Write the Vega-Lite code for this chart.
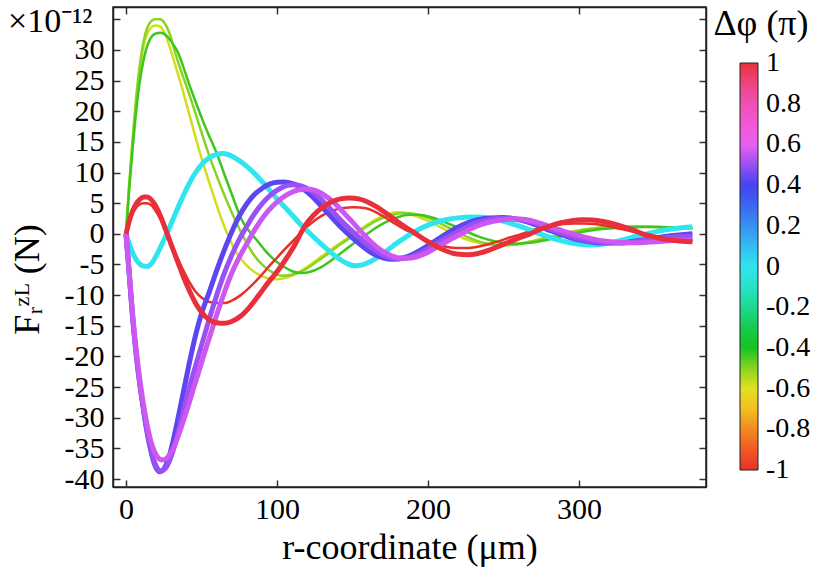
{
  "$schema": "https://vega.github.io/schema/vega-lite/v6.json",
  "width": 593,
  "height": 480,
  "autosize": {"type": "none"},
  "padding": {"left": 113, "top": 7, "right": 124, "bottom": 81},
  "background": "white",
  "title": {"text": "×10⁻¹²", "anchor": "start", "frame": "group", "orient": "top", "baseline": "top", "offset": 0, "dx": -105, "dy": 33, "font": "Liberation Serif", "fontSize": 34, "fontWeight": "normal", "color": "#000"},
  "config": {
    "view": {"stroke": "#222", "strokeWidth": 1.5},
    "axis": {
      "labelFont": "Liberation Serif", "labelFontSize": 30, "labelColor": "#000",
      "titleFont": "Liberation Serif", "titleFontSize": 36, "titleFontWeight": "normal", "titleColor": "#000",
      "tickColor": "#333", "tickWidth": 1.5, "tickSize": -7,
      "domainColor": "#222", "domainWidth": 1.5, "grid": false, "labelPadding": 16
    }
  },
  "data": {"values": [
    {"curve":"y","dphi":-0.58,"r":0,"F":0},{"curve":"y","dphi":-0.58,"r":2,"F":7.5},{"curve":"y","dphi":-0.58,"r":4,"F":14},{"curve":"y","dphi":-0.58,"r":6,"F":19.8},{"curve":"y","dphi":-0.58,"r":8,"F":24.6},{"curve":"y","dphi":-0.58,"r":10,"F":28.3},{"curve":"y","dphi":-0.58,"r":13,"F":31.9},{"curve":"y","dphi":-0.58,"r":16,"F":33.5},{"curve":"y","dphi":-0.58,"r":19,"F":34},{"curve":"y","dphi":-0.58,"r":22,"F":33.9},{"curve":"y","dphi":-0.58,"r":25,"F":33},{"curve":"y","dphi":-0.58,"r":28,"F":31.2},{"curve":"y","dphi":-0.58,"r":30.2,"F":29.5},{"curve":"y","dphi":-0.58,"r":33,"F":27.2},{"curve":"y","dphi":-0.58,"r":36.9,"F":24},{"curve":"y","dphi":-0.58,"r":40,"F":21.2},{"curve":"y","dphi":-0.58,"r":44,"F":17.6},{"curve":"y","dphi":-0.58,"r":49,"F":13.2},{"curve":"y","dphi":-0.58,"r":54,"F":9.2},{"curve":"y","dphi":-0.58,"r":58,"F":6.2},{"curve":"y","dphi":-0.58,"r":63.4,"F":2.3},{"curve":"y","dphi":-0.58,"r":68.9,"F":-1},{"curve":"y","dphi":-0.58,"r":74,"F":-3.4},{"curve":"y","dphi":-0.58,"r":80,"F":-5.2},{"curve":"y","dphi":-0.58,"r":86,"F":-6.4},{"curve":"y","dphi":-0.58,"r":93,"F":-7.2},{"curve":"y","dphi":-0.58,"r":100,"F":-7.4},{"curve":"y","dphi":-0.58,"r":107,"F":-7.1},{"curve":"y","dphi":-0.58,"r":115,"F":-6.2},{"curve":"y","dphi":-0.58,"r":123,"F":-4.9},{"curve":"y","dphi":-0.58,"r":131,"F":-3.4},{"curve":"y","dphi":-0.58,"r":139,"F":-2},{"curve":"y","dphi":-0.58,"r":146,"F":-0.8},{"curve":"y","dphi":-0.58,"r":152,"F":0.2},{"curve":"y","dphi":-0.58,"r":158,"F":1.2},{"curve":"y","dphi":-0.58,"r":165,"F":2.3},{"curve":"y","dphi":-0.58,"r":172,"F":3.1},{"curve":"y","dphi":-0.58,"r":179,"F":3.5},{"curve":"y","dphi":-0.58,"r":186,"F":3.3},{"curve":"y","dphi":-0.58,"r":193,"F":2.8},{"curve":"y","dphi":-0.58,"r":200,"F":2.1},{"curve":"y","dphi":-0.58,"r":208,"F":1.1},{"curve":"y","dphi":-0.58,"r":216,"F":0.1},{"curve":"y","dphi":-0.58,"r":224,"F":-0.8},{"curve":"y","dphi":-0.58,"r":232,"F":-1.4},{"curve":"y","dphi":-0.58,"r":240,"F":-1.8},{"curve":"y","dphi":-0.58,"r":248,"F":-1.9},{"curve":"y","dphi":-0.58,"r":256,"F":-1.8},{"curve":"y","dphi":-0.58,"r":264,"F":-1.4},{"curve":"y","dphi":-0.58,"r":272,"F":-1},{"curve":"y","dphi":-0.58,"r":280,"F":-0.5},{"curve":"y","dphi":-0.58,"r":290,"F":0.1},{"curve":"y","dphi":-0.58,"r":300,"F":0.6},{"curve":"y","dphi":-0.58,"r":310,"F":0.9},{"curve":"y","dphi":-0.58,"r":320,"F":1.1},{"curve":"y","dphi":-0.58,"r":330,"F":1.2},{"curve":"y","dphi":-0.58,"r":340,"F":1.2},{"curve":"y","dphi":-0.58,"r":350,"F":1.1},{"curve":"y","dphi":-0.58,"r":360,"F":1},{"curve":"y","dphi":-0.58,"r":368,"F":0.9},{"curve":"y","dphi":-0.58,"r":375,"F":0.8},

    {"curve":"l","dphi":-0.5,"r":0,"F":0},{"curve":"l","dphi":-0.5,"r":2,"F":7.6},{"curve":"l","dphi":-0.5,"r":4,"F":14.2},{"curve":"l","dphi":-0.5,"r":6,"F":20.2},{"curve":"l","dphi":-0.5,"r":8,"F":25.2},{"curve":"l","dphi":-0.5,"r":10,"F":29},{"curve":"l","dphi":-0.5,"r":13,"F":32.8},{"curve":"l","dphi":-0.5,"r":16,"F":34.5},{"curve":"l","dphi":-0.5,"r":19,"F":35},{"curve":"l","dphi":-0.5,"r":22.5,"F":35},{"curve":"l","dphi":-0.5,"r":26,"F":34.2},{"curve":"l","dphi":-0.5,"r":29,"F":32.6},{"curve":"l","dphi":-0.5,"r":32.5,"F":29.6},{"curve":"l","dphi":-0.5,"r":36,"F":26.9},{"curve":"l","dphi":-0.5,"r":40.2,"F":24},{"curve":"l","dphi":-0.5,"r":44,"F":21.2},{"curve":"l","dphi":-0.5,"r":48,"F":18.1},{"curve":"l","dphi":-0.5,"r":54.5,"F":13.2},{"curve":"l","dphi":-0.5,"r":60,"F":9.5},{"curve":"l","dphi":-0.5,"r":66,"F":5.8},{"curve":"l","dphi":-0.5,"r":72.2,"F":2.3},{"curve":"l","dphi":-0.5,"r":78.8,"F":-1},{"curve":"l","dphi":-0.5,"r":84,"F":-3.2},{"curve":"l","dphi":-0.5,"r":90,"F":-5},{"curve":"l","dphi":-0.5,"r":97,"F":-6.3},{"curve":"l","dphi":-0.5,"r":104,"F":-6.85},{"curve":"l","dphi":-0.5,"r":111,"F":-6.6},{"curve":"l","dphi":-0.5,"r":118,"F":-5.9},{"curve":"l","dphi":-0.5,"r":126,"F":-4.6},{"curve":"l","dphi":-0.5,"r":134,"F":-3.2},{"curve":"l","dphi":-0.5,"r":142,"F":-1.7},{"curve":"l","dphi":-0.5,"r":150,"F":-0.4},{"curve":"l","dphi":-0.5,"r":157,"F":0.8},{"curve":"l","dphi":-0.5,"r":164,"F":1.9},{"curve":"l","dphi":-0.5,"r":171,"F":2.7},{"curve":"l","dphi":-0.5,"r":178,"F":3.2},{"curve":"l","dphi":-0.5,"r":185,"F":3.4},{"curve":"l","dphi":-0.5,"r":192,"F":3.2},{"curve":"l","dphi":-0.5,"r":200,"F":2.6},{"curve":"l","dphi":-0.5,"r":208,"F":1.7},{"curve":"l","dphi":-0.5,"r":216,"F":0.7},{"curve":"l","dphi":-0.5,"r":224,"F":-0.3},{"curve":"l","dphi":-0.5,"r":232,"F":-1.1},{"curve":"l","dphi":-0.5,"r":240,"F":-1.6},{"curve":"l","dphi":-0.5,"r":248,"F":-1.85},{"curve":"l","dphi":-0.5,"r":256,"F":-1.8},{"curve":"l","dphi":-0.5,"r":264,"F":-1.5},{"curve":"l","dphi":-0.5,"r":272,"F":-1.1},{"curve":"l","dphi":-0.5,"r":280,"F":-0.6},{"curve":"l","dphi":-0.5,"r":290,"F":0},{"curve":"l","dphi":-0.5,"r":300,"F":0.5},{"curve":"l","dphi":-0.5,"r":310,"F":0.9},{"curve":"l","dphi":-0.5,"r":320,"F":1.1},{"curve":"l","dphi":-0.5,"r":330,"F":1.2},{"curve":"l","dphi":-0.5,"r":340,"F":1.2},{"curve":"l","dphi":-0.5,"r":350,"F":1.15},{"curve":"l","dphi":-0.5,"r":360,"F":1.05},{"curve":"l","dphi":-0.5,"r":368,"F":0.95},{"curve":"l","dphi":-0.5,"r":375,"F":0.9},

    {"curve":"g","dphi":-0.42,"r":0,"F":0},{"curve":"g","dphi":-0.42,"r":2,"F":6.8},{"curve":"g","dphi":-0.42,"r":4,"F":12.8},{"curve":"g","dphi":-0.42,"r":6,"F":18.2},{"curve":"g","dphi":-0.42,"r":8,"F":22.7},{"curve":"g","dphi":-0.42,"r":10,"F":26.2},{"curve":"g","dphi":-0.42,"r":13,"F":29.8},{"curve":"g","dphi":-0.42,"r":16,"F":31.8},{"curve":"g","dphi":-0.42,"r":19,"F":32.6},{"curve":"g","dphi":-0.42,"r":23,"F":32.8},{"curve":"g","dphi":-0.42,"r":27,"F":32.3},{"curve":"g","dphi":-0.42,"r":31,"F":31},{"curve":"g","dphi":-0.42,"r":34.6,"F":29.5},{"curve":"g","dphi":-0.42,"r":38,"F":27.2},{"curve":"g","dphi":-0.42,"r":42.4,"F":24},{"curve":"g","dphi":-0.42,"r":46,"F":21.6},{"curve":"g","dphi":-0.42,"r":50,"F":19},{"curve":"g","dphi":-0.42,"r":55,"F":16},{"curve":"g","dphi":-0.42,"r":60,"F":13.2},{"curve":"g","dphi":-0.42,"r":65,"F":9.8},{"curve":"g","dphi":-0.42,"r":70,"F":6.5},{"curve":"g","dphi":-0.42,"r":76.6,"F":2.3},{"curve":"g","dphi":-0.42,"r":81,"F":0.6},{"curve":"g","dphi":-0.42,"r":86.5,"F":-1},{"curve":"g","dphi":-0.42,"r":92,"F":-2.7},{"curve":"g","dphi":-0.42,"r":98,"F":-4.2},{"curve":"g","dphi":-0.42,"r":104,"F":-5.3},{"curve":"g","dphi":-0.42,"r":110,"F":-6.1},{"curve":"g","dphi":-0.42,"r":116,"F":-6.4},{"curve":"g","dphi":-0.42,"r":122,"F":-6.2},{"curve":"g","dphi":-0.42,"r":128,"F":-5.6},{"curve":"g","dphi":-0.42,"r":135,"F":-4.5},{"curve":"g","dphi":-0.42,"r":142,"F":-3.2},{"curve":"g","dphi":-0.42,"r":150,"F":-1.7},{"curve":"g","dphi":-0.42,"r":158,"F":-0.3},{"curve":"g","dphi":-0.42,"r":165,"F":0.9},{"curve":"g","dphi":-0.42,"r":172,"F":1.9},{"curve":"g","dphi":-0.42,"r":180,"F":2.7},{"curve":"g","dphi":-0.42,"r":187,"F":3.1},{"curve":"g","dphi":-0.42,"r":194,"F":3.1},{"curve":"g","dphi":-0.42,"r":202,"F":2.7},{"curve":"g","dphi":-0.42,"r":210,"F":2},{"curve":"g","dphi":-0.42,"r":218,"F":1.2},{"curve":"g","dphi":-0.42,"r":226,"F":0.3},{"curve":"g","dphi":-0.42,"r":234,"F":-0.5},{"curve":"g","dphi":-0.42,"r":242,"F":-1.1},{"curve":"g","dphi":-0.42,"r":250,"F":-1.5},{"curve":"g","dphi":-0.42,"r":258,"F":-1.6},{"curve":"g","dphi":-0.42,"r":266,"F":-1.5},{"curve":"g","dphi":-0.42,"r":274,"F":-1.2},{"curve":"g","dphi":-0.42,"r":282,"F":-0.8},{"curve":"g","dphi":-0.42,"r":292,"F":-0.2},{"curve":"g","dphi":-0.42,"r":302,"F":0.3},{"curve":"g","dphi":-0.42,"r":312,"F":0.7},{"curve":"g","dphi":-0.42,"r":322,"F":0.9},{"curve":"g","dphi":-0.42,"r":332,"F":1.05},{"curve":"g","dphi":-0.42,"r":342,"F":1.1},{"curve":"g","dphi":-0.42,"r":352,"F":1.1},{"curve":"g","dphi":-0.42,"r":362,"F":1.05},{"curve":"g","dphi":-0.42,"r":375,"F":1},

    {"curve":"rt","dphi":-1,"r":0,"F":0},{"curve":"rt","dphi":-1,"r":3,"F":2.5},{"curve":"rt","dphi":-1,"r":6,"F":4},{"curve":"rt","dphi":-1,"r":9,"F":4.8},{"curve":"rt","dphi":-1,"r":12,"F":5},{"curve":"rt","dphi":-1,"r":14,"F":5},{"curve":"rt","dphi":-1,"r":17,"F":4.6},{"curve":"rt","dphi":-1,"r":20,"F":3.6},{"curve":"rt","dphi":-1,"r":23,"F":2.3},{"curve":"rt","dphi":-1,"r":27,"F":0},{"curve":"rt","dphi":-1,"r":30,"F":-1.7},{"curve":"rt","dphi":-1,"r":34,"F":-3.9},{"curve":"rt","dphi":-1,"r":38,"F":-6},{"curve":"rt","dphi":-1,"r":42,"F":-7.9},{"curve":"rt","dphi":-1,"r":46,"F":-9.4},{"curve":"rt","dphi":-1,"r":50,"F":-10.4},{"curve":"rt","dphi":-1,"r":55,"F":-11.1},{"curve":"rt","dphi":-1,"r":60,"F":-11.3},{"curve":"rt","dphi":-1,"r":65,"F":-11.3},{"curve":"rt","dphi":-1,"r":70,"F":-10.9},{"curve":"rt","dphi":-1,"r":76,"F":-10},{"curve":"rt","dphi":-1,"r":82,"F":-8.7},{"curve":"rt","dphi":-1,"r":88,"F":-7.2},{"curve":"rt","dphi":-1,"r":94,"F":-5.5},{"curve":"rt","dphi":-1,"r":100,"F":-3.9},{"curve":"rt","dphi":-1,"r":106,"F":-2.3},{"curve":"rt","dphi":-1,"r":112,"F":-0.8},{"curve":"rt","dphi":-1,"r":117,"F":0.5},{"curve":"rt","dphi":-1,"r":123,"F":1.8},{"curve":"rt","dphi":-1,"r":130,"F":3},{"curve":"rt","dphi":-1,"r":137,"F":3.8},{"curve":"rt","dphi":-1,"r":144,"F":4.2},{"curve":"rt","dphi":-1,"r":151,"F":4.35},{"curve":"rt","dphi":-1,"r":158,"F":4.2},{"curve":"rt","dphi":-1,"r":164,"F":3.7},{"curve":"rt","dphi":-1,"r":170,"F":2.9},{"curve":"rt","dphi":-1,"r":177,"F":1.8},{"curve":"rt","dphi":-1,"r":184,"F":0.8},{"curve":"rt","dphi":-1,"r":191,"F":-0.1},{"curve":"rt","dphi":-1,"r":198,"F":-0.9},{"curve":"rt","dphi":-1,"r":205,"F":-1.6},{"curve":"rt","dphi":-1,"r":212,"F":-2.1},{"curve":"rt","dphi":-1,"r":219,"F":-2.3},{"curve":"rt","dphi":-1,"r":226,"F":-2.3},{"curve":"rt","dphi":-1,"r":233,"F":-2.1},{"curve":"rt","dphi":-1,"r":240,"F":-1.7},{"curve":"rt","dphi":-1,"r":247,"F":-1.2},{"curve":"rt","dphi":-1,"r":254,"F":-0.6},{"curve":"rt","dphi":-1,"r":261,"F":-0.1},{"curve":"rt","dphi":-1,"r":268,"F":0.5},{"curve":"rt","dphi":-1,"r":275,"F":1},{"curve":"rt","dphi":-1,"r":282,"F":1.3},{"curve":"rt","dphi":-1,"r":289,"F":1.6},{"curve":"rt","dphi":-1,"r":296,"F":1.7},{"curve":"rt","dphi":-1,"r":303,"F":1.7},{"curve":"rt","dphi":-1,"r":310,"F":1.6},{"curve":"rt","dphi":-1,"r":317,"F":1.35},{"curve":"rt","dphi":-1,"r":324,"F":1},{"curve":"rt","dphi":-1,"r":331,"F":0.6},{"curve":"rt","dphi":-1,"r":338,"F":0.2},{"curve":"rt","dphi":-1,"r":345,"F":-0.2},{"curve":"rt","dphi":-1,"r":352,"F":-0.5},{"curve":"rt","dphi":-1,"r":360,"F":-0.75},{"curve":"rt","dphi":-1,"r":368,"F":-0.9},{"curve":"rt","dphi":-1,"r":375,"F":-1},

    {"curve":"c","dphi":0,"r":0,"F":0},{"curve":"c","dphi":0,"r":3,"F":-2.2},{"curve":"c","dphi":0,"r":6,"F":-3.9},{"curve":"c","dphi":0,"r":9,"F":-4.9},{"curve":"c","dphi":0,"r":12,"F":-5.3},{"curve":"c","dphi":0,"r":14,"F":-5.3},{"curve":"c","dphi":0,"r":17,"F":-4.8},{"curve":"c","dphi":0,"r":20,"F":-3.6},{"curve":"c","dphi":0,"r":23,"F":-2.1},{"curve":"c","dphi":0,"r":27,"F":0},{"curve":"c","dphi":0,"r":31,"F":2.3},{"curve":"c","dphi":0,"r":35,"F":4.6},{"curve":"c","dphi":0,"r":40,"F":7.3},{"curve":"c","dphi":0,"r":45,"F":9.6},{"curve":"c","dphi":0,"r":50,"F":11.3},{"curve":"c","dphi":0,"r":55,"F":12.4},{"curve":"c","dphi":0,"r":60,"F":12.95},{"curve":"c","dphi":0,"r":64.5,"F":13.1},{"curve":"c","dphi":0,"r":69,"F":12.8},{"curve":"c","dphi":0,"r":74,"F":12.1},{"curve":"c","dphi":0,"r":80,"F":11},{"curve":"c","dphi":0,"r":86,"F":9.6},{"curve":"c","dphi":0,"r":92,"F":8},{"curve":"c","dphi":0,"r":100,"F":5.7},{"curve":"c","dphi":0,"r":108,"F":3.6},{"curve":"c","dphi":0,"r":115,"F":1.7},{"curve":"c","dphi":0,"r":122,"F":0},{"curve":"c","dphi":0,"r":128,"F":-1.4},{"curve":"c","dphi":0,"r":134,"F":-2.7},{"curve":"c","dphi":0,"r":140,"F":-3.9},{"curve":"c","dphi":0,"r":146,"F":-4.8},{"curve":"c","dphi":0,"r":151,"F":-5.2},{"curve":"c","dphi":0,"r":156,"F":-5.1},{"curve":"c","dphi":0,"r":162,"F":-4.5},{"curve":"c","dphi":0,"r":168,"F":-3.6},{"curve":"c","dphi":0,"r":174,"F":-2.5},{"curve":"c","dphi":0,"r":180,"F":-1.4},{"curve":"c","dphi":0,"r":186,"F":-0.4},{"curve":"c","dphi":0,"r":190,"F":0.2},{"curve":"c","dphi":0,"r":196,"F":1},{"curve":"c","dphi":0,"r":204,"F":1.8},{"curve":"c","dphi":0,"r":212,"F":2.3},{"curve":"c","dphi":0,"r":220,"F":2.6},{"curve":"c","dphi":0,"r":228,"F":2.75},{"curve":"c","dphi":0,"r":236,"F":2.7},{"curve":"c","dphi":0,"r":244,"F":2.4},{"curve":"c","dphi":0,"r":252,"F":1.9},{"curve":"c","dphi":0,"r":260,"F":1.3},{"curve":"c","dphi":0,"r":268,"F":0.6},{"curve":"c","dphi":0,"r":275,"F":-0.1},{"curve":"c","dphi":0,"r":281,"F":-0.6},{"curve":"c","dphi":0,"r":288,"F":-1.1},{"curve":"c","dphi":0,"r":295,"F":-1.5},{"curve":"c","dphi":0,"r":302,"F":-1.75},{"curve":"c","dphi":0,"r":308,"F":-1.8},{"curve":"c","dphi":0,"r":315,"F":-1.7},{"curve":"c","dphi":0,"r":322,"F":-1.4},{"curve":"c","dphi":0,"r":330,"F":-0.9},{"curve":"c","dphi":0,"r":338,"F":-0.4},{"curve":"c","dphi":0,"r":345,"F":0},{"curve":"c","dphi":0,"r":352,"F":0.4},{"curve":"c","dphi":0,"r":360,"F":0.75},{"curve":"c","dphi":0,"r":368,"F":1},{"curve":"c","dphi":0,"r":375,"F":1.15},

    {"curve":"b","dphi":0.42,"r":0,"F":0},{"curve":"b","dphi":0.42,"r":2,"F":-6},{"curve":"b","dphi":0.42,"r":4,"F":-12.5},{"curve":"b","dphi":0.42,"r":6,"F":-17.8},{"curve":"b","dphi":0.42,"r":8,"F":-22.3},{"curve":"b","dphi":0.42,"r":10,"F":-26},{"curve":"b","dphi":0.42,"r":12,"F":-29.4},{"curve":"b","dphi":0.42,"r":14,"F":-32.4},{"curve":"b","dphi":0.42,"r":16,"F":-34.9},{"curve":"b","dphi":0.42,"r":18,"F":-36.9},{"curve":"b","dphi":0.42,"r":20,"F":-38.2},{"curve":"b","dphi":0.42,"r":22.5,"F":-38.8},{"curve":"b","dphi":0.42,"r":25,"F":-38.4},{"curve":"b","dphi":0.42,"r":28,"F":-36.8},{"curve":"b","dphi":0.42,"r":31,"F":-34},{"curve":"b","dphi":0.42,"r":34,"F":-30.6},{"curve":"b","dphi":0.42,"r":37,"F":-27},{"curve":"b","dphi":0.42,"r":42,"F":-21},{"curve":"b","dphi":0.42,"r":46,"F":-16.6},{"curve":"b","dphi":0.42,"r":50,"F":-13},{"curve":"b","dphi":0.42,"r":55,"F":-9.6},{"curve":"b","dphi":0.42,"r":60,"F":-6},{"curve":"b","dphi":0.42,"r":65,"F":-2.7},{"curve":"b","dphi":0.42,"r":70,"F":0.3},{"curve":"b","dphi":0.42,"r":75,"F":2.9},{"curve":"b","dphi":0.42,"r":80,"F":4.9},{"curve":"b","dphi":0.42,"r":85,"F":6.4},{"curve":"b","dphi":0.42,"r":90,"F":7.4},{"curve":"b","dphi":0.42,"r":95,"F":8.1},{"curve":"b","dphi":0.42,"r":100,"F":8.4},{"curve":"b","dphi":0.42,"r":104,"F":8.45},{"curve":"b","dphi":0.42,"r":108.6,"F":8.3},{"curve":"b","dphi":0.42,"r":114,"F":7.8},{"curve":"b","dphi":0.42,"r":120,"F":6.8},{"curve":"b","dphi":0.42,"r":126,"F":5.4},{"curve":"b","dphi":0.42,"r":132,"F":3.8},{"curve":"b","dphi":0.42,"r":138,"F":2.2},{"curve":"b","dphi":0.42,"r":143,"F":0.9},{"curve":"b","dphi":0.42,"r":147,"F":0},{"curve":"b","dphi":0.42,"r":152,"F":-1.1},{"curve":"b","dphi":0.42,"r":158,"F":-2.3},{"curve":"b","dphi":0.42,"r":164,"F":-3.3},{"curve":"b","dphi":0.42,"r":170,"F":-3.9},{"curve":"b","dphi":0.42,"r":177,"F":-4.15},{"curve":"b","dphi":0.42,"r":184,"F":-3.9},{"curve":"b","dphi":0.42,"r":191,"F":-3.2},{"curve":"b","dphi":0.42,"r":198,"F":-2.2},{"curve":"b","dphi":0.42,"r":205,"F":-1.1},{"curve":"b","dphi":0.42,"r":212,"F":0},{"curve":"b","dphi":0.42,"r":219,"F":1},{"curve":"b","dphi":0.42,"r":226,"F":1.8},{"curve":"b","dphi":0.42,"r":233,"F":2.3},{"curve":"b","dphi":0.42,"r":241,"F":2.6},{"curve":"b","dphi":0.42,"r":250,"F":2.65},{"curve":"b","dphi":0.42,"r":258,"F":2.4},{"curve":"b","dphi":0.42,"r":266,"F":1.9},{"curve":"b","dphi":0.42,"r":274,"F":1.2},{"curve":"b","dphi":0.42,"r":281,"F":0.5},{"curve":"b","dphi":0.42,"r":287,"F":0},{"curve":"b","dphi":0.42,"r":294,"F":-0.6},{"curve":"b","dphi":0.42,"r":302,"F":-1.1},{"curve":"b","dphi":0.42,"r":310,"F":-1.4},{"curve":"b","dphi":0.42,"r":318,"F":-1.5},{"curve":"b","dphi":0.42,"r":326,"F":-1.5},{"curve":"b","dphi":0.42,"r":334,"F":-1.3},{"curve":"b","dphi":0.42,"r":342,"F":-1},{"curve":"b","dphi":0.42,"r":350,"F":-0.7},{"curve":"b","dphi":0.42,"r":358,"F":-0.4},{"curve":"b","dphi":0.42,"r":366,"F":-0.2},{"curve":"b","dphi":0.42,"r":375,"F":0},

    {"curve":"v","dphi":0.5,"r":0,"F":0},{"curve":"v","dphi":0.5,"r":2,"F":-6},{"curve":"v","dphi":0.5,"r":4,"F":-12.5},{"curve":"v","dphi":0.5,"r":6,"F":-17.8},{"curve":"v","dphi":0.5,"r":8,"F":-22.3},{"curve":"v","dphi":0.5,"r":10,"F":-26},{"curve":"v","dphi":0.5,"r":12,"F":-29.3},{"curve":"v","dphi":0.5,"r":14,"F":-32.2},{"curve":"v","dphi":0.5,"r":16,"F":-34.6},{"curve":"v","dphi":0.5,"r":18,"F":-36.6},{"curve":"v","dphi":0.5,"r":20,"F":-37.9},{"curve":"v","dphi":0.5,"r":23,"F":-38.7},{"curve":"v","dphi":0.5,"r":26,"F":-38.3},{"curve":"v","dphi":0.5,"r":29,"F":-36.9},{"curve":"v","dphi":0.5,"r":32,"F":-34.7},{"curve":"v","dphi":0.5,"r":35,"F":-32},{"curve":"v","dphi":0.5,"r":38,"F":-29},{"curve":"v","dphi":0.5,"r":42,"F":-25},{"curve":"v","dphi":0.5,"r":46.6,"F":-21.1},{"curve":"v","dphi":0.5,"r":50,"F":-18.2},{"curve":"v","dphi":0.5,"r":55,"F":-14},{"curve":"v","dphi":0.5,"r":59.8,"F":-10.2},{"curve":"v","dphi":0.5,"r":65,"F":-6.5},{"curve":"v","dphi":0.5,"r":70,"F":-3.5},{"curve":"v","dphi":0.5,"r":75,"F":-0.9},{"curve":"v","dphi":0.5,"r":78.6,"F":0.65},{"curve":"v","dphi":0.5,"r":84,"F":2.9},{"curve":"v","dphi":0.5,"r":90,"F":4.9},{"curve":"v","dphi":0.5,"r":96,"F":6.4},{"curve":"v","dphi":0.5,"r":102,"F":7.4},{"curve":"v","dphi":0.5,"r":107,"F":7.9},{"curve":"v","dphi":0.5,"r":111,"F":8},{"curve":"v","dphi":0.5,"r":116,"F":7.8},{"curve":"v","dphi":0.5,"r":122,"F":7.1},{"curve":"v","dphi":0.5,"r":128,"F":5.9},{"curve":"v","dphi":0.5,"r":134,"F":4.4},{"curve":"v","dphi":0.5,"r":140,"F":2.8},{"curve":"v","dphi":0.5,"r":146,"F":1.3},{"curve":"v","dphi":0.5,"r":151.7,"F":0},{"curve":"v","dphi":0.5,"r":157,"F":-1.2},{"curve":"v","dphi":0.5,"r":163,"F":-2.4},{"curve":"v","dphi":0.5,"r":169,"F":-3.3},{"curve":"v","dphi":0.5,"r":175,"F":-3.9},{"curve":"v","dphi":0.5,"r":181,"F":-4.05},{"curve":"v","dphi":0.5,"r":188,"F":-3.8},{"curve":"v","dphi":0.5,"r":195,"F":-3.1},{"curve":"v","dphi":0.5,"r":202,"F":-2.1},{"curve":"v","dphi":0.5,"r":209,"F":-1.1},{"curve":"v","dphi":0.5,"r":217,"F":0},{"curve":"v","dphi":0.5,"r":224,"F":0.9},{"curve":"v","dphi":0.5,"r":231,"F":1.7},{"curve":"v","dphi":0.5,"r":238,"F":2.2},{"curve":"v","dphi":0.5,"r":246,"F":2.5},{"curve":"v","dphi":0.5,"r":254,"F":2.55},{"curve":"v","dphi":0.5,"r":262,"F":2.3},{"curve":"v","dphi":0.5,"r":270,"F":1.8},{"curve":"v","dphi":0.5,"r":278,"F":1.1},{"curve":"v","dphi":0.5,"r":285,"F":0.4},{"curve":"v","dphi":0.5,"r":290,"F":0},{"curve":"v","dphi":0.5,"r":297,"F":-0.6},{"curve":"v","dphi":0.5,"r":305,"F":-1.05},{"curve":"v","dphi":0.5,"r":313,"F":-1.35},{"curve":"v","dphi":0.5,"r":321,"F":-1.45},{"curve":"v","dphi":0.5,"r":329,"F":-1.45},{"curve":"v","dphi":0.5,"r":337,"F":-1.3},{"curve":"v","dphi":0.5,"r":345,"F":-1},{"curve":"v","dphi":0.5,"r":353,"F":-0.75},{"curve":"v","dphi":0.5,"r":361,"F":-0.55},{"curve":"v","dphi":0.5,"r":368,"F":-0.45},{"curve":"v","dphi":0.5,"r":375,"F":-0.4},

    {"curve":"p","dphi":0.56,"r":0,"F":0},{"curve":"p","dphi":0.56,"r":2,"F":-5.8},{"curve":"p","dphi":0.56,"r":4,"F":-12},{"curve":"p","dphi":0.56,"r":6,"F":-17.2},{"curve":"p","dphi":0.56,"r":8,"F":-21.6},{"curve":"p","dphi":0.56,"r":10,"F":-25.3},{"curve":"p","dphi":0.56,"r":12,"F":-28.5},{"curve":"p","dphi":0.56,"r":14,"F":-31.2},{"curve":"p","dphi":0.56,"r":16,"F":-33.4},{"curve":"p","dphi":0.56,"r":18,"F":-35},{"curve":"p","dphi":0.56,"r":20,"F":-36.1},{"curve":"p","dphi":0.56,"r":22,"F":-36.7},{"curve":"p","dphi":0.56,"r":24.5,"F":-36.9},{"curve":"p","dphi":0.56,"r":27,"F":-36.6},{"curve":"p","dphi":0.56,"r":30,"F":-35.6},{"curve":"p","dphi":0.56,"r":33,"F":-34},{"curve":"p","dphi":0.56,"r":36,"F":-32},{"curve":"p","dphi":0.56,"r":40,"F":-29},{"curve":"p","dphi":0.56,"r":45,"F":-25},{"curve":"p","dphi":0.56,"r":49.9,"F":-21.1},{"curve":"p","dphi":0.56,"r":54,"F":-17.9},{"curve":"p","dphi":0.56,"r":59,"F":-14},{"curve":"p","dphi":0.56,"r":64.2,"F":-10.2},{"curve":"p","dphi":0.56,"r":69,"F":-7},{"curve":"p","dphi":0.56,"r":74,"F":-4.3},{"curve":"p","dphi":0.56,"r":80,"F":-1.6},{"curve":"p","dphi":0.56,"r":85.2,"F":0.65},{"curve":"p","dphi":0.56,"r":91,"F":2.8},{"curve":"p","dphi":0.56,"r":97,"F":4.5},{"curve":"p","dphi":0.56,"r":103,"F":5.8},{"curve":"p","dphi":0.56,"r":109,"F":6.7},{"curve":"p","dphi":0.56,"r":114,"F":7.15},{"curve":"p","dphi":0.56,"r":120,"F":7.3},{"curve":"p","dphi":0.56,"r":126,"F":7},{"curve":"p","dphi":0.56,"r":132,"F":6.2},{"curve":"p","dphi":0.56,"r":138,"F":5},{"curve":"p","dphi":0.56,"r":144,"F":3.5},{"curve":"p","dphi":0.56,"r":150,"F":1.9},{"curve":"p","dphi":0.56,"r":157,"F":0},{"curve":"p","dphi":0.56,"r":163,"F":-1.5},{"curve":"p","dphi":0.56,"r":169,"F":-2.7},{"curve":"p","dphi":0.56,"r":175,"F":-3.5},{"curve":"p","dphi":0.56,"r":180,"F":-3.9},{"curve":"p","dphi":0.56,"r":186,"F":-4},{"curve":"p","dphi":0.56,"r":193,"F":-3.7},{"curve":"p","dphi":0.56,"r":200,"F":-3},{"curve":"p","dphi":0.56,"r":207,"F":-2},{"curve":"p","dphi":0.56,"r":214,"F":-1},{"curve":"p","dphi":0.56,"r":222,"F":0},{"curve":"p","dphi":0.56,"r":229,"F":0.9},{"curve":"p","dphi":0.56,"r":236,"F":1.6},{"curve":"p","dphi":0.56,"r":244,"F":2.1},{"curve":"p","dphi":0.56,"r":252,"F":2.35},{"curve":"p","dphi":0.56,"r":261,"F":2.4},{"curve":"p","dphi":0.56,"r":269,"F":2.1},{"curve":"p","dphi":0.56,"r":277,"F":1.5},{"curve":"p","dphi":0.56,"r":284,"F":0.9},{"curve":"p","dphi":0.56,"r":290,"F":0.4},{"curve":"p","dphi":0.56,"r":296,"F":0},{"curve":"p","dphi":0.56,"r":303,"F":-0.5},{"curve":"p","dphi":0.56,"r":311,"F":-0.95},{"curve":"p","dphi":0.56,"r":319,"F":-1.25},{"curve":"p","dphi":0.56,"r":327,"F":-1.4},{"curve":"p","dphi":0.56,"r":335,"F":-1.45},{"curve":"p","dphi":0.56,"r":343,"F":-1.4},{"curve":"p","dphi":0.56,"r":351,"F":-1.3},{"curve":"p","dphi":0.56,"r":359,"F":-1.15},{"curve":"p","dphi":0.56,"r":367,"F":-1.05},{"curve":"p","dphi":0.56,"r":375,"F":-1},

    {"curve":"r","dphi":1,"r":0,"F":0},{"curve":"r","dphi":1,"r":3,"F":2.8},{"curve":"r","dphi":1,"r":6,"F":4.6},{"curve":"r","dphi":1,"r":9,"F":5.6},{"curve":"r","dphi":1,"r":12,"F":6},{"curve":"r","dphi":1,"r":14,"F":6},{"curve":"r","dphi":1,"r":17,"F":5.5},{"curve":"r","dphi":1,"r":20,"F":4.4},{"curve":"r","dphi":1,"r":23,"F":2.8},{"curve":"r","dphi":1,"r":27,"F":0.2},{"curve":"r","dphi":1,"r":30,"F":-1.8},{"curve":"r","dphi":1,"r":34,"F":-4.4},{"curve":"r","dphi":1,"r":38,"F":-7},{"curve":"r","dphi":1,"r":42,"F":-9.3},{"curve":"r","dphi":1,"r":46,"F":-11.3},{"curve":"r","dphi":1,"r":50,"F":-12.8},{"curve":"r","dphi":1,"r":55,"F":-14},{"curve":"r","dphi":1,"r":60,"F":-14.5},{"curve":"r","dphi":1,"r":65,"F":-14.6},{"curve":"r","dphi":1,"r":70,"F":-14.3},{"curve":"r","dphi":1,"r":76,"F":-13.4},{"curve":"r","dphi":1,"r":82,"F":-11.9},{"curve":"r","dphi":1,"r":88,"F":-10},{"curve":"r","dphi":1,"r":94,"F":-8},{"curve":"r","dphi":1,"r":100,"F":-6.2},{"curve":"r","dphi":1,"r":104,"F":-4.8},{"curve":"r","dphi":1,"r":108,"F":-3.3},{"curve":"r","dphi":1,"r":112,"F":-1.7},{"curve":"r","dphi":1,"r":115.5,"F":0},{"curve":"r","dphi":1,"r":119,"F":1.5},{"curve":"r","dphi":1,"r":124,"F":3},{"curve":"r","dphi":1,"r":130,"F":4.3},{"curve":"r","dphi":1,"r":136,"F":5.2},{"curve":"r","dphi":1,"r":142,"F":5.7},{"curve":"r","dphi":1,"r":148,"F":5.85},{"curve":"r","dphi":1,"r":154,"F":5.7},{"curve":"r","dphi":1,"r":160,"F":5.2},{"curve":"r","dphi":1,"r":166,"F":4.4},{"curve":"r","dphi":1,"r":172,"F":3.4},{"curve":"r","dphi":1,"r":178,"F":2.3},{"curve":"r","dphi":1,"r":185,"F":1.1},{"curve":"r","dphi":1,"r":192,"F":0},{"curve":"r","dphi":1,"r":198,"F":-1},{"curve":"r","dphi":1,"r":205,"F":-2},{"curve":"r","dphi":1,"r":212,"F":-2.8},{"curve":"r","dphi":1,"r":219,"F":-3.3},{"curve":"r","dphi":1,"r":226,"F":-3.4},{"curve":"r","dphi":1,"r":233,"F":-3.2},{"curve":"r","dphi":1,"r":240,"F":-2.7},{"curve":"r","dphi":1,"r":247,"F":-2},{"curve":"r","dphi":1,"r":254,"F":-1.3},{"curve":"r","dphi":1,"r":261,"F":-0.6},{"curve":"r","dphi":1,"r":267.5,"F":0},{"curve":"r","dphi":1,"r":274,"F":0.7},{"curve":"r","dphi":1,"r":281,"F":1.3},{"curve":"r","dphi":1,"r":288,"F":1.8},{"curve":"r","dphi":1,"r":295,"F":2.15},{"curve":"r","dphi":1,"r":302,"F":2.3},{"curve":"r","dphi":1,"r":309,"F":2.25},{"curve":"r","dphi":1,"r":316,"F":2},{"curve":"r","dphi":1,"r":323,"F":1.6},{"curve":"r","dphi":1,"r":330,"F":1.1},{"curve":"r","dphi":1,"r":336,"F":0.6},{"curve":"r","dphi":1,"r":342,"F":0},{"curve":"r","dphi":1,"r":348,"F":-0.4},{"curve":"r","dphi":1,"r":355,"F":-0.8},{"curve":"r","dphi":1,"r":362,"F":-1.05},{"curve":"r","dphi":1,"r":368,"F":-1.2},{"curve":"r","dphi":1,"r":375,"F":-1.3}
  ]},
  "encoding": {
    "color": {
      "field": "dphi", "type": "quantitative",
      "scale": {
        "domain": [-1, -0.9, -0.8, -0.7, -0.6, -0.5, -0.4, -0.3, -0.2, -0.1, 0, 0.1, 0.2, 0.3, 0.4, 0.5, 0.6, 0.7, 0.8, 0.9, 1],
        "range": ["#e8302a", "#f05a24", "#f08a20", "#f2c020", "#e4e020", "#88d420", "#14c420", "#14cc50", "#20d890", "#28e2c8", "#30e4f0", "#34bcf2", "#3890f0", "#3c66f0", "#4444f0", "#9a50f2", "#e860f0", "#f058d8", "#f050b4", "#ee4480", "#e8303c"]
      },
      "legend": {
        "orient": "none", "legendX": 600, "legendY": 0, "direction": "vertical",
        "title": "Δφ (π)", "titleFont": "Liberation Serif", "titleFontSize": 36, "titleFontWeight": "normal", "titleColor": "#000",
        "titleAnchor": "middle", "titlePadding": 20,
        "gradientLength": 407, "gradientThickness": 18, "gradientStrokeColor": "#222", "gradientStrokeWidth": 1,
        "values": [-1, -0.8, -0.6, -0.4, -0.2, 0, 0.2, 0.4, 0.6, 0.8, 1],
        "format": "~g",
        "labelFont": "Liberation Serif", "labelFontSize": 28, "labelColor": "#000", "labelOffset": 8,
        "labelExpr": "replace(datum.label, '−', '-')", "labelOverlap": false,
        "encode": {
          "labels": {"update": {"baseline": {"value": "middle"}}},
          "title": {"update": {"dx": {"value": -14}}}
        }
      }
    },
    "detail": {"field": "curve", "type": "nominal"}
  },
  "layer": [
    {
      "transform": [{"filter": "indexof(['y', 'l', 'g', 'rt'], datum.curve) >= 0"}],
      "mark": {"type": "line", "strokeWidth": 2.5, "interpolate": "monotone"},
      "encoding": {
        "x": {"field": "r", "type": "quantitative", "scale": {"domain": [-8.6, 384], "nice": false, "zero": false},
          "axis": {"orient": "bottom", "values": [0, 100, 200, 300], "title": "r-coordinate (μm)", "titlePadding": 6, "labelPadding": 14}},
        "y": {"field": "F", "type": "quantitative", "scale": {"domain": [-41.3, 37], "nice": false, "zero": false},
          "axis": {"orient": "left", "values": [-40, -35, -30, -25, -20, -15, -10, -5, 0, 5, 10, 15, 20, 25, 30, 35],
            "labelExpr": "datum.value == 35 ? '' : replace(datum.label, '−', '-')", "title": "Fᵣᶻᴸ (N)", "titlePadding": 18, "titleY": 272}}
      }
    },
    {
      "transform": [{"filter": "indexof(['c', 'b', 'v', 'p', 'r'], datum.curve) >= 0"}],
      "mark": {"type": "line", "strokeWidth": 5, "interpolate": "monotone"},
      "encoding": {
        "x": {"field": "r", "type": "quantitative",
          "axis": {"orient": "top", "values": [0, 100, 200, 300], "labels": false, "title": null}},
        "y": {"field": "F", "type": "quantitative",
          "axis": {"orient": "right", "values": [-40, -35, -30, -25, -20, -15, -10, -5, 0, 5, 10, 15, 20, 25, 30, 35], "labels": false, "title": null}}
      }
    }
  ],
  "resolve": {"axis": {"x": "independent", "y": "independent"}}
}
